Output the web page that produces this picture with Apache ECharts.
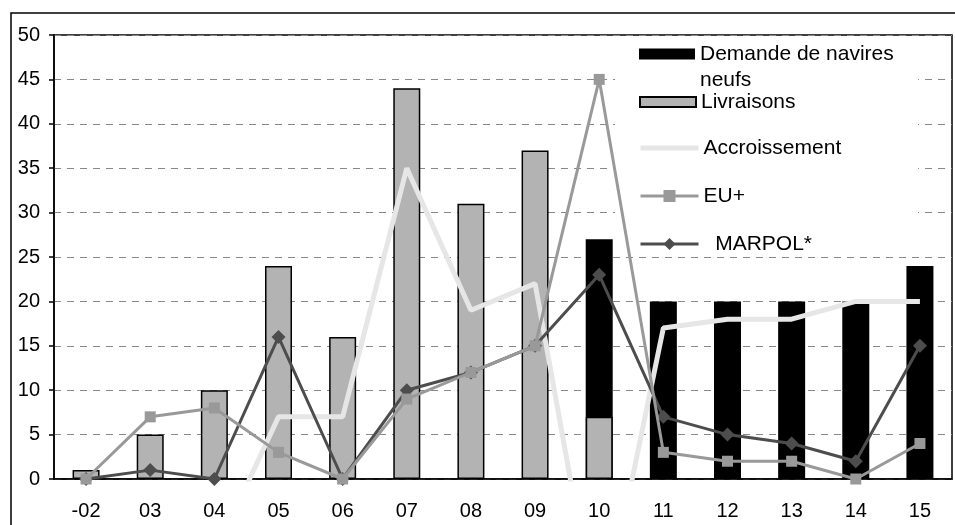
<!DOCTYPE html>
<html>
<head>
<meta charset="utf-8">
<script src="https://cdn.jsdelivr.net/npm/echarts@6/dist/echarts.min.js"></script>
<style>html,body{margin:0;padding:0;background:#fff}#main{width:955px;height:525px}</style>
</head>
<body>
<div id="main"></div>
<script>
var years = ['-02', '03', '04', '05', '06', '07', '08', '09', '10', '11', '12', '13', '14', '15'];
var demande = [null, null, null, null, null, null, null, null, 27, 20, 20, 20, 20, 24];
var livraisons = [1, 5, 10, 24, 16, 44, 31, 37, 7, null, null, null, null, null];
// values below 0 are cut off by the axis, as in the original
var accroissement = [null, null, -8.5, 7, 7, 35, 19, 22, -18, 17, 18, 18, 20, 20];
var euPlus = [0, 7, 8, 3, 0, 9, 12, 15, 45, 3, 2, 2, 0, 4];
var marpol = [0, 1, 0, 16, 0, 10, 12, 15, 23, 7, 5, 4, 2, 15];

var font = 'Liberation Sans, Arial, sans-serif';
var legendText = { fontSize: 21, color: '#000', fontFamily: font, lineHeight: 24 };
var myChart = echarts.init(document.getElementById('main'));

var option = {
    animation: false,
    backgroundColor: '#fff',
    textStyle: { fontFamily: font },
    graphic: [
        { type: 'rect', z: 0, shape: { x: 11, y: 13, width: 960, height: 530 },
          style: { fill: 'none', stroke: '#000', lineWidth: 1.5 } },
        { type: 'rect', z: 1, shape: { x: 615, y: 37, width: 303, height: 218 },
          style: { fill: '#fff' } }
    ],
    grid: { left: 54, top: 35, right: 3, bottom: 46, show: true, borderColor: '#000', borderWidth: 1.5 },
    legend: [{
        // blank first line so the icon sits level with "Demande de navires"
        orient: 'vertical', left: 639, top: 15, padding: 0,
        itemWidth: 56, itemHeight: 11, icon: 'rect',
        data: ['Demande de navires neufs'],
        formatter: function () { return '\nDemande de navires\nneufs'; },
        textStyle: { fontSize: 21, color: '#000', fontFamily: font, lineHeight: 26 }
    }, {
        orient: 'vertical', left: 639, top: 90, padding: 0,
        itemWidth: 56, itemHeight: 10, icon: 'rect',
        data: ['Livraisons'],
        textStyle: legendText
    }, {
        orient: 'vertical', left: 638, top: 136, padding: 0,
        itemWidth: 58, itemHeight: 15, itemGap: 24,
        data: [
            { name: 'Accroissement', lineStyle: { width: 5 }, itemStyle: { color: 'rgba(0,0,0,0)', borderWidth: 0 } },
            { name: 'EU+', lineStyle: { width: 3 } },
            { name: 'MARPOL*', lineStyle: { width: 3 } }
        ],
        formatter: function (n) { return n === 'MARPOL*' ? '  ' + n : n; },
        textStyle: legendText
    }],
    xAxis: {
        type: 'category',
        data: years,
        axisLine: { lineStyle: { color: '#000', width: 1.5 } },
        axisTick: { length: 5, lineStyle: { color: '#000', width: 1.5 } },
        axisLabel: { fontSize: 20, color: '#000', margin: 22, fontFamily: font }
    },
    yAxis: {
        type: 'value', min: 0, max: 50, interval: 5,
        axisLine: { show: true, lineStyle: { color: '#000', width: 1.5 } },
        axisTick: { show: true, length: 5, lineStyle: { color: '#000', width: 1.5 } },
        axisLabel: { fontSize: 20, color: '#000', margin: 14, fontFamily: font },
        splitLine: { lineStyle: { color: '#888', type: [7, 6], width: 1 } }
    },
    series: [{
        name: 'Demande de navires neufs',
        type: 'bar',
        barWidth: 27,
        barGap: '-100%',
        itemStyle: { color: '#000' },
        data: demande
    }, {
        name: 'Livraisons',
        type: 'bar',
        barWidth: 27,
        barGap: '-100%',
        itemStyle: { color: '#b3b3b3', borderColor: '#000', borderWidth: 1.5 },
        data: livraisons
    }, {
        name: 'Accroissement',
        type: 'line',
        symbol: 'none',
        lineStyle: { color: '#e6e6e6', width: 5 },
        itemStyle: { color: '#e6e6e6' },
        z: 3,
        data: accroissement
    }, {
        name: 'MARPOL*',
        type: 'line',
        symbol: 'diamond',
        symbolSize: 14,
        lineStyle: { color: '#4d4d4d', width: 3 },
        itemStyle: { color: '#4d4d4d' },
        z: 4,
        data: marpol
    }, {
        name: 'EU+',
        type: 'line',
        symbol: 'rect',
        symbolSize: 11,
        lineStyle: { color: '#999', width: 3 },
        itemStyle: { color: '#999' },
        z: 5,
        data: euPlus
    }]
};

myChart.setOption(option);
</script>
</body>
</html>
